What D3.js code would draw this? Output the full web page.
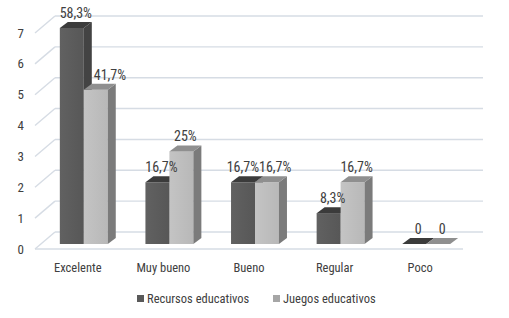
<!DOCTYPE html>
<html>
<head>
<meta charset="utf-8">
<script src="https://cdn.jsdelivr.net/npm/d3@7"></script>
<style>
  body { margin: 0; background: #fff; }
  text { font-family: "Liberation Sans Narrow", "Roboto Condensed", "Liberation Sans", sans-serif; fill: #404040; }
</style>
</head>
<body>
<div id="main"></div>
<script>
// data
const categories = ['Excelente', 'Muy bueno', 'Bueno', 'Regular', 'Poco'];
const seriesNames = ['Recursos educativos', 'Juegos educativos'];
const recursos = [7, 2, 2, 1, 0];
const juegos = [5, 3, 2, 2, 0];
const recursosLabels = ['58,3%', '16,7%', '16,7%', '8,3%', '0'];
const juegosLabels = ['41,7%', '25%', '16,7%', '16,7%', '0'];
const yTicks = [0, 1, 2, 3, 4, 5, 6, 7];

const W = 509, H = 318;
const wall = { x: 20, y: -17 };   // depth of the back wall
const front = { x: 6, y: -5 };    // where the bar fronts sit
const depth = { x: 8, y: -6 };    // bar depth

const colors = [
    { front: ['#616161', '#575757'], side: '#434343', top: '#3b3b3b', key: '#595959' },
    { front: ['#c4c4c4', '#b8b8b8'], side: '#7b7b7b', top: '#8f8f8f', key: '#a6a6a6' }
];

const svg = d3.select('#main').append('svg')
    .attr('width', W).attr('height', H);

svg.append('rect').attr('width', W).attr('height', H).attr('fill', '#fff');

const defs = svg.append('defs');
colors.forEach((c, i) => {
    let g = defs.append('linearGradient').attr('id', 'grad' + i)
        .attr('x1', 0).attr('x2', 1).attr('y1', 0).attr('y2', 0);
    g.append('stop').attr('offset', 0).attr('stop-color', c.front[0]);
    g.append('stop').attr('offset', 1).attr('stop-color', c.front[1]);
});

let x0 = d3.scaleBand()
    .domain(categories)
    .range([35, 463])
    .paddingInner(0.44)
    .paddingOuter(0.22);

let x1 = d3.scaleBand()
    .domain(seriesNames)
    .range([0, x0.bandwidth()]);

let y = d3.scaleLinear()
    .domain([0, 7])
    .range([249, 33]);

// walls and gridlines
let grid = svg.append('g').attr('stroke', '#d6dce4').attr('stroke-width', 1.4).attr('fill', 'none');
yTicks.forEach(t => {
    grid.append('line')
        .attr('x1', 35).attr('y1', y(t))
        .attr('x2', 35 + wall.x).attr('y2', y(t) + wall.y);
    grid.append('line')
        .attr('x1', 35 + wall.x).attr('y1', y(t) + wall.y)
        .attr('x2', 463 + wall.x).attr('y2', y(t) + wall.y);
});
grid.append('line')
    .attr('x1', 35).attr('y1', y(0))
    .attr('x2', 463).attr('y2', y(0));

svg.append('g').selectAll('text')
    .data(yTicks)
    .enter()
    .append('text')
    .attr('x', 24)
    .attr('y', d => y(d) + 4.5)
    .attr('text-anchor', 'end')
    .attr('font-size', 13)
    .text(d => d);

// bars
let series = [recursos, juegos];
let labels = [recursosLabels, juegosLabels];
let barLayer = svg.append('g');
let labelLayer = svg.append('g');
let w = x1.bandwidth();

categories.forEach((cat, i) => {
    let placed = [];
    series.forEach((vals, j) => {
        let c = colors[j];
        let x = x0(cat) + x1(seriesNames[j]) + front.x;
        let bottom = y(0) + front.y;
        let top = y(vals[i]) + front.y;
        let g = barLayer.append('g');

        if (vals[i] > 0) {
            g.append('rect')
                .attr('x', x).attr('y', top)
                .attr('width', w).attr('height', bottom - top)
                .attr('fill', 'url(#grad' + j + ')');
            g.append('path')
                .attr('d', `M${x + w},${top}L${x + w + depth.x},${top + depth.y}L${x + w + depth.x},${bottom + depth.y}L${x + w},${bottom}Z`)
                .attr('fill', c.side);
        }
        g.append('path')
            .attr('d', `M${x},${top}L${x + depth.x},${top + depth.y}L${x + w + depth.x},${top + depth.y}L${x + w},${top}Z`)
            .attr('fill', c.top);

        let cx = x + (w + depth.x) / 2;
        let t = labelLayer.append('text')
            .attr('x', cx)
            .attr('y', top + depth.y - 4)
            .attr('text-anchor', 'middle')
            .attr('font-size', 14)
            .text(labels[j][i]);
        let bw = t.node().getComputedTextLength();

        // keep a label clear of a taller bar just to its left
        if (j > 0 && series[j - 1][i] > vals[i]) {
            let minLeft = x + depth.x + 2;
            if (cx - bw / 2 < minLeft) cx = minLeft + bw / 2;
        }
        placed.push({ t: t, cx: cx, bw: bw, top: top });
    });

    // labels on the same level: push apart so they just touch
    let a = placed[0], b = placed[1];
    if (a && b && Math.abs(a.top - b.top) < 12) {
        let overlap = (a.cx + a.bw / 2) - (b.cx - b.bw / 2);
        if (overlap > 0) {
            a.cx -= overlap / 2;
            b.cx += overlap / 2;
        }
    }
    placed.forEach(p => p.t.attr('x', p.cx));
});

// category labels
svg.append('g').selectAll('text')
    .data(categories)
    .enter()
    .append('text')
    .attr('x', d => x0(d) + x0.bandwidth() / 2)
    .attr('y', 272)
    .attr('text-anchor', 'middle')
    .attr('font-size', 12.5)
    .text(d => d);

// legend
let legendX = [137, 273];
let legend = svg.append('g');
seriesNames.forEach((name, j) => {
    legend.append('rect')
        .attr('x', legendX[j]).attr('y', 295)
        .attr('width', 7).attr('height', 7)
        .attr('fill', colors[j].key);
    legend.append('text')
        .attr('x', legendX[j] + 10).attr('y', 303)
        .attr('font-size', 12.5)
        .text(name);
});
</script>
</body>
</html>
